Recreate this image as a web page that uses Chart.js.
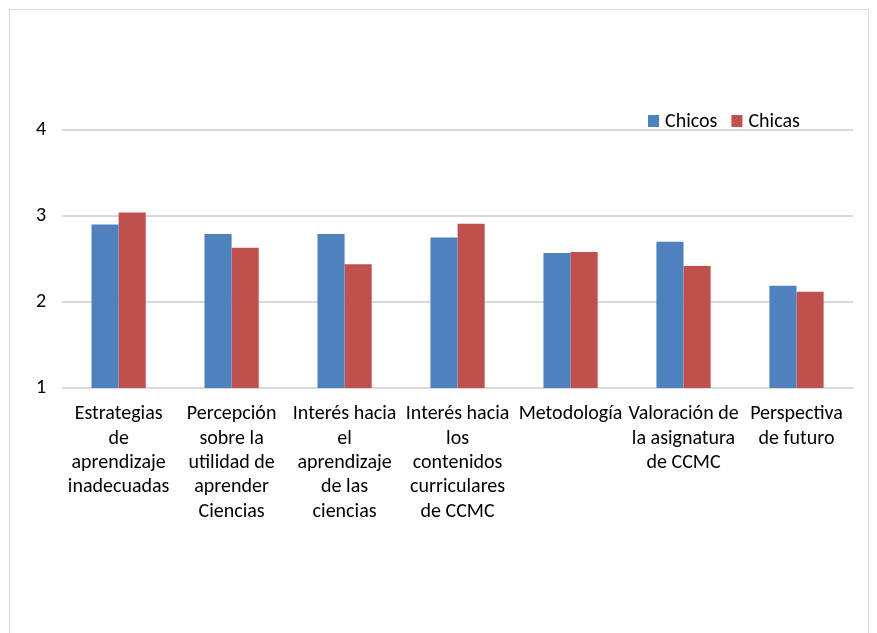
<!DOCTYPE html>
<html>
<head>
<meta charset="utf-8">
<script src="https://cdn.jsdelivr.net/npm/chart.js@4.4.1/dist/chart.umd.min.js"></script>
<style>
  html, body { margin: 0; padding: 0; background: #fff; overflow: hidden; }
  #frame { position: absolute; left: 9px; top: 9px; width: 858px; height: 640px; border: 1px solid #d9d9d9; }
  canvas { display: block; }
</style>
</head>
<body>
<div id="frame"><canvas id="c" width="858" height="623"></canvas></div>
<script>
const categories = [
  ["Estrategias", "de", "aprendizaje", "inadecuadas"],
  ["Percepción", "sobre la", "utilidad de", "aprender", "Ciencias"],
  ["Interés hacia", "el", "aprendizaje", "de las", "ciencias"],
  ["Interés hacia", "los", "contenidos", "curriculares", "de CCMC"],
  ["Metodología"],
  ["Valoración de", "la asignatura", "de CCMC"],
  ["Perspectiva", "de futuro"]
];
const chicos = [2.90, 2.79, 2.79, 2.75, 2.57, 2.70, 2.19];
const chicas = [3.04, 2.63, 2.44, 2.91, 2.58, 2.42, 2.12];
const seriesNames = ["Chicos", "Chicas"];
const yTicks = [1, 2, 3, 4];

const FONT = "'Carlito', 'Liberation Sans Narrow', 'Arial Narrow', sans-serif";

const legendPlugin = {
  id: 'customLegend',
  afterDraw(chart) {
    const ctx = chart.ctx;
    const area = chart.chartArea;
    ctx.save();
    ctx.font = "20px " + FONT;
    ctx.textBaseline = 'middle';
    ctx.textAlign = 'left';
    let x = area.right - 205;
    const yc = area.top - 9;
    chart.data.datasets.forEach((ds) => {
      ctx.fillStyle = ds.backgroundColor;
      ctx.fillRect(x, yc - 6, 11, 12);
      x += 17;
      ctx.fillStyle = '#000';
      ctx.fillText(ds.label, x, yc + 1);
      x += ctx.measureText(ds.label).width + 14;
    });
    ctx.restore();
  }
};

new Chart(document.getElementById('c'), {
  type: 'bar',
  data: {
    labels: categories,
    datasets: [
      { label: seriesNames[0], data: chicos, backgroundColor: '#4F81BD', borderWidth: 0 },
      { label: seriesNames[1], data: chicas, backgroundColor: '#C0504D', borderWidth: 0 }
    ]
  },
  options: {
    responsive: false,
    animation: false,
    layout: { padding: { top: 120, right: 15, left: 10, bottom: 103 } },
    plugins: { legend: { display: false }, tooltip: { enabled: false } },
    datasets: { bar: { categoryPercentage: 0.48, barPercentage: 1.0 } },
    scales: {
      x: {
        grid: { display: false },
        border: { display: false },
        ticks: {
          color: '#000', autoSkip: false, maxRotation: 0, minRotation: 0, padding: 6,
          font: { family: FONT, size: 20, lineHeight: 1.22 }
        }
      },
      y: {
        min: 1, max: 4,
        afterBuildTicks(axis) { axis.ticks = yTicks.map(v => ({ value: v })); },
        grid: { color: '#d9d9d9', lineWidth: 2, drawTicks: false },
        border: { display: false },
        ticks: {
          color: '#000', padding: 16,
          font: { family: FONT, size: 20 }
        }
      }
    }
  },
  plugins: [legendPlugin]
});
</script>
</body>
</html>
